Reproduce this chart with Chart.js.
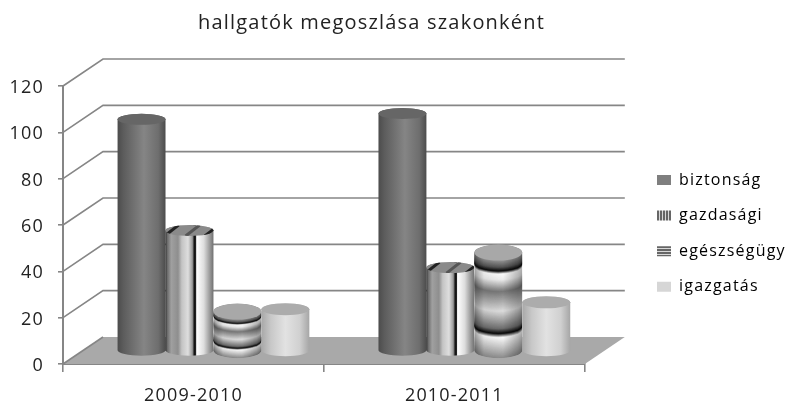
<!DOCTYPE html>
<html lang="hu">
<head>
  <meta charset="UTF-8" />
  <title>hallgatók megoszlása szakonként</title>
  <script src="https://cdn.jsdelivr.net/npm/chart.js"></script>
  <style>
    body { margin: 0; background: #ffffff; }
    canvas { display: block; }
  </style>
</head>
<body>
  <canvas id="grafik" width="791" height="414"></canvas>

  <script>
    const years = ['2009-2010', '2010-2011'];
    const biztonsag = [100, 102.5];
    const gazdasagi = [52, 36];
    const egeszsegugy = [17, 42.5];
    const igazgatas = [18, 21];
    const yTicks = [0, 20, 40, 60, 80, 100, 120];

    const FONT = "'Open Sans', sans-serif";
    const LINE = '#868686';
    // how far the back wall sits behind the axis plane
    const BACK_X = 40, BACK_Y = -27;
    // the cylinders stand in the middle of the floor
    const DEPTH_X = 20, DEPTH_Y = -13;

    function stripes(vertical) {
      const c = document.createElement('canvas');
      c.width = c.height = 3;
      const g = c.getContext('2d');
      g.fillStyle = '#d8d8d8';
      g.fillRect(0, 0, 3, 3);
      g.fillStyle = '#666666';
      if (vertical) g.fillRect(0, 0, 2, 3); else g.fillRect(0, 0, 3, 2);
      return g.createPattern(c, 'repeat');
    }

    const swatches = ['#7f7f7f', stripes(true), stripes(false), '#d6d6d6'];

    function hGrad(ctx, x, w, stops) {
      const g = ctx.createLinearGradient(x - w / 2, 0, x + w / 2, 0);
      stops.forEach(s => g.addColorStop(s[0], s[1]));
      return g;
    }

    const sideStops = [
      [[0, '#4c4c4c'], [0.12, '#5c5c5c'], [0.55, '#858585'], [0.85, '#6e6e6e'], [1, '#4c4c4c']],
      [[0, '#222222'], [0.03, '#666666'], [0.12, '#a0a0a0'], [0.26, '#8e8e8e'], [0.34, '#c4c4c4'], [0.47, '#dedede'],
       [0.56, '#9a9a9a'], [0.6, '#111111'], [0.63, '#222222'], [0.65, '#ffffff'], [0.8, '#dddddd'], [1, '#707070']],
      null,
      [[0, '#a8a8a8'], [0.2, '#c8c8c8'], [0.5, '#e2e2e2'], [0.8, '#d0d0d0'], [1, '#a6a6a6']]
    ];
    const topFill = ['#666666', '#8a8a8a', '#a8a8a8', '#acacac'];
    const topRy = [5.5, 5.5, 8, 6];

    // vertical texture of the third series, 0 = top of the body, 1 = foot
    const bands = [[0, 150], [0.07, 85], [0.11, 8], [0.14, 250], [0.2, 235], [0.32, 120], [0.52, 220], [0.7, 110],
                   [0.75, 8], [0.79, 250], [1, 140]];

    function bandGrey(t) {
      for (let i = 1; i < bands.length; i++) {
        if (t <= bands[i][0]) {
          const a = bands[i - 1], b = bands[i];
          const v = Math.round(a[1] + (b[1] - a[1]) * (t - a[0]) / (b[0] - a[0]));
          return 'rgb(' + v + ',' + v + ',' + v + ')';
        }
      }
      return '#8c8c8c';
    }

    function cylinder(ctx, series, x, top, base, w) {
      const rx = w / 2, ry = topRy[series];
      ctx.save();
      ctx.beginPath();
      ctx.moveTo(x - rx, top);
      ctx.lineTo(x - rx, base);
      ctx.ellipse(x, base, rx, ry, 0, Math.PI, 0, true);
      ctx.lineTo(x + rx, top);
      ctx.ellipse(x, top, rx, ry, 0, 0, Math.PI, true);
      ctx.closePath();
      if (series === 2) {
        ctx.clip();
        for (let y = base; y >= top; y -= 0.5) {
          ctx.fillStyle = bandGrey((y - top) / (base - top));
          ctx.beginPath();
          ctx.ellipse(x, y, rx, ry, 0, 0, Math.PI * 2);
          ctx.fill();
        }
        ctx.fillStyle = hGrad(ctx, x, w, [[0, 'rgba(0,0,0,.35)'], [0.2, 'rgba(0,0,0,.06)'], [0.6, 'rgba(0,0,0,0)'], [1, 'rgba(0,0,0,.3)']]);
        ctx.fillRect(x - rx, top - ry, w, base - top + 2 * ry);
      } else {
        ctx.fillStyle = hGrad(ctx, x, w, sideStops[series]);
        ctx.fill();
      }
      ctx.restore();

      ctx.save();
      ctx.beginPath();
      ctx.ellipse(x, top, rx, ry, 0, 0, Math.PI * 2);
      ctx.fillStyle = topFill[series];
      ctx.fill();
      if (series === 1) {
        ctx.clip();
        ctx.lineWidth = 3;
        [[-0.52, '#222222'], [-0.08, '#555555'], [0.32, '#222222']].forEach(s => {
          ctx.strokeStyle = s[1];
          ctx.beginPath();
          ctx.moveTo(x + s[0] * w, top + ry);
          ctx.lineTo(x + s[0] * w + 14, top - ry);
          ctx.stroke();
        });
      }
      ctx.restore();
    }

    const room3d = {
      id: 'room3d',
      beforeDraw(chart) {
        chart.ctx.letterSpacing = '1.2px';
        chart.titleBlock.right = 743;
        const legend = chart.legend;
        const pad = legend.options.labels.padding;
        legend.left = 657 - pad;
        legend.right = 791;
        legend.top = 172 - pad;
        legend.bottom = 320;
      },
      beforeDatasetsDraw(chart) {
        const { ctx, chartArea: a, scales: { y } } = chart;
        const y0 = y.getPixelForValue(0);
        ctx.save();
        ctx.fillStyle = '#a9a9a9';
        ctx.beginPath();
        ctx.moveTo(a.left, y0);
        ctx.lineTo(a.left + BACK_X, y0 + BACK_Y);
        ctx.lineTo(a.right + BACK_X, y0 + BACK_Y);
        ctx.lineTo(a.right, y0);
        ctx.closePath();
        ctx.fill();
        ctx.strokeStyle = LINE;
        ctx.lineWidth = 1.6;
        yTicks.forEach(v => {
          const py = y.getPixelForValue(v);
          ctx.beginPath();
          ctx.moveTo(a.left, py);
          ctx.lineTo(a.left + BACK_X, py + BACK_Y);
          if (v > 0) ctx.lineTo(a.right + BACK_X, py + BACK_Y);
          ctx.stroke();
        });
        ctx.restore();
      },
      afterDatasetsDraw(chart) {
        chart.data.datasets.forEach((ds, series) => {
          chart.getDatasetMeta(series).data.forEach(bar => {
            cylinder(chart.ctx, series, bar.x + DEPTH_X, bar.y + DEPTH_Y, bar.base + DEPTH_Y, bar.width);
          });
        });
      }
    };

    const noFill = 'rgba(0,0,0,0)';

    new Chart(document.getElementById('grafik'), {
      type: 'bar',
      data: {
        labels: years,
        datasets: [
          { label: 'biztonság', data: biztonsag, backgroundColor: noFill, borderColor: noFill },
          { label: 'gazdasági', data: gazdasagi, backgroundColor: noFill, borderColor: noFill },
          { label: 'egészségügy', data: egeszsegugy, backgroundColor: noFill, borderColor: noFill },
          { label: 'igazgatás', data: igazgatas, backgroundColor: noFill, borderColor: noFill }
        ]
      },
      plugins: [room3d],
      options: {
        responsive: false,
        animation: false,
        layout: { padding: { right: 61 } },
        datasets: { bar: { categoryPercentage: 0.735, barPercentage: 1 } },
        plugins: {
          tooltip: { enabled: false },
          title: {
            display: true,
            text: 'hallgatók megoszlása szakonként',
            color: '#222222',
            font: { family: FONT, size: 20, weight: 'normal' },
            padding: { top: 11, bottom: 51 }
          },
          legend: {
            position: 'right',
            align: 'start',
            labels: {
              font: { family: FONT, size: 16 },
              color: '#222222',
              boxWidth: 14,
              boxHeight: 10,
              padding: 19.6,
              generateLabels: chart => chart.data.datasets.map((ds, i) => ({
                text: ds.label,
                fillStyle: swatches[i],
                strokeStyle: noFill,
                lineWidth: 0,
                datasetIndex: i
              }))
            }
          }
        },
        scales: {
          x: {
            afterFit: s => { s.height = 50; },
            grid: { drawOnChartArea: false, tickLength: 8, color: LINE, lineWidth: 1.6 },
            border: { color: LINE, width: 2 },
            ticks: { color: '#222222', padding: 13, font: { family: FONT, size: 18 } }
          },
          y: {
            min: 0,
            max: 120,
            afterFit: s => { s.width = 63; },
            afterBuildTicks: s => { s.ticks = yTicks.map(v => ({ value: v })); },
            grid: { drawOnChartArea: false, tickLength: 5, color: LINE, lineWidth: 1.6 },
            border: { color: LINE, width: 2 },
            ticks: { color: '#222222', padding: 14, labelOffset: 2, font: { family: FONT, size: 18 } }
          }
        }
      }
    });
  </script>
</body>
</html>
